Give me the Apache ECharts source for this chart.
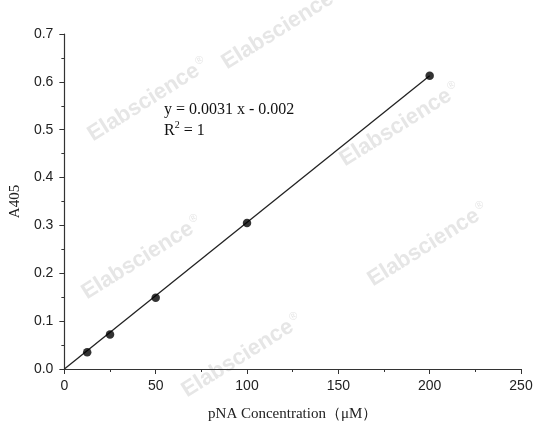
<!DOCTYPE html>
<html>
<head>
<meta charset="utf-8">
<script src="https://cdn.jsdelivr.net/npm/echarts@6/dist/echarts.min.js"></script>
<style>html,body{margin:0;padding:0;background:#fff}#c{width:538px;height:435px}</style>
</head>
<body>
<div id="c"></div>
<script>
// Data
const concentrations = [12.5, 25, 50, 100, 200];
const absorbance = [0.035, 0.072, 0.149, 0.305, 0.613];
const fitX = [0, 200];
const fitY = [0, 0.613];
const xTicks = [0, 50, 100, 150, 200, 250];
const yTicks = [0.0, 0.1, 0.2, 0.3, 0.4, 0.5, 0.6, 0.7];
const equationText = 'y = 0.0031 x - 0.002';
const r2Text = 'R{sup|2} = 1';
const watermark = 'Elabscience{r|®}';

const chart = echarts.init(document.getElementById('c'));
const axisCol = '#333';
const wmStyle = (x, y) => ({
  type: 'text', x: x, y: y, rotation: 0.56, z: -10,
  style: { text: watermark, fill: '#e6e6e6', font: 'bold 22px "Liberation Sans", Arial, sans-serif',
           textAlign: 'center', textVerticalAlign: 'middle',
           rich: { r: { fontSize: 11, fontWeight: 'normal', fill: '#e6e6e6', verticalAlign: 'top', padding: [0, 0, 12, 2] } } }
});
chart.setOption({
  animation: false,
  backgroundColor: '#fff',
  grid: { left: 60, right: 17, top: 34, bottom: 66, containLabel: false },
  xAxis: {
    type: 'value', min: xTicks[0], max: xTicks[xTicks.length - 1], interval: 50,
    name: 'pNA Concentration（μM）', nameLocation: 'middle', nameGap: 38,
    nameTextStyle: { fontFamily: '"Liberation Serif", "Times New Roman", serif', fontSize: 15, color: '#222' },
    axisLine: { show: true, lineStyle: { color: axisCol, width: 1.2 } },
    axisTick: { show: true, inside: false, length: 5, lineStyle: { color: axisCol } },
    minorTick: { show: true, splitNumber: 2, length: 3, lineStyle: { color: axisCol } },
    axisLabel: { margin: 10, fontFamily: '"Liberation Sans", Arial, sans-serif', fontSize: 14, color: '#222' },
    splitLine: { show: false }
  },
  yAxis: {
    type: 'value', min: yTicks[0], max: yTicks[yTicks.length - 1], interval: 0.1,
    name: 'A405', nameLocation: 'middle', nameGap: 35,
    nameTextStyle: { fontFamily: '"Liberation Serif", "Times New Roman", serif', fontSize: 15, color: '#222' },
    axisLine: { show: true, lineStyle: { color: axisCol, width: 1.2 } },
    axisTick: { show: true, inside: false, length: 5, lineStyle: { color: axisCol } },
    minorTick: { show: true, splitNumber: 2, length: 3, lineStyle: { color: axisCol } },
    axisLabel: { margin: 11, fontFamily: '"Liberation Sans", Arial, sans-serif', fontSize: 14, color: '#222',
                 formatter: v => v.toFixed(1) },
    splitLine: { show: false }
  },
  graphic: [
    wmStyle(148, 100), wmStyle(282, 28), wmStyle(400, 125),
    wmStyle(142, 258), wmStyle(428, 245), wmStyle(242, 356),
    {
      type: 'text', left: 164, top: 99, z: 100,
      style: {
        text: equationText + '\n' + r2Text,
        font: '16px "Liberation Serif", "Times New Roman", serif', fill: '#111', lineHeight: 21,
        rich: { sup: { fontSize: 10, verticalAlign: 'top', padding: [0, 0, 8, 0], fontFamily: '"Liberation Serif", serif' } }
      }
    }
  ],
  series: [
    {
      type: 'line', data: fitX.map((x, i) => [x, fitY[i]]), symbol: 'none',
      lineStyle: { color: '#222', width: 1.3 }, z: 3
    },
    {
      type: 'scatter', data: concentrations.map((x, i) => [x, absorbance[i]]),
      symbol: 'circle', symbolSize: 8.5, itemStyle: { color: '#000' }, z: 4
    }
  ]
});
</script>
</body>
</html>
